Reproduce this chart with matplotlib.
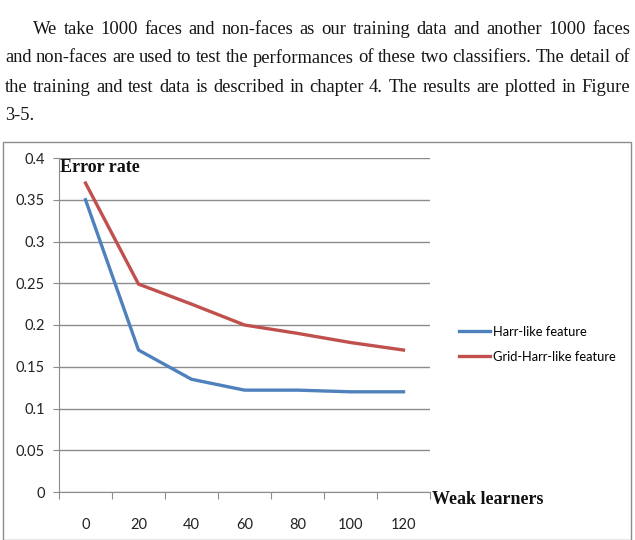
import matplotlib.pyplot as plt
from matplotlib.patches import Rectangle

# data
learners = ['0', '20', '40', '60', '80', '100', '120']
harr = [0.35, 0.17, 0.135, 0.122, 0.122, 0.120, 0.120]
grid_harr = [0.37, 0.249, 0.225, 0.200, 0.190, 0.179, 0.170]
y_ticks = [0, 0.05, 0.1, 0.15, 0.2, 0.25, 0.3, 0.35, 0.4]
y_labels = ['0', '0.05', '0.1', '0.15', '0.2', '0.25', '0.3', '0.35', '0.4']

paragraph = [
    "We take 1000 faces and non-faces as our training data and another 1000 faces",
    "and non-faces are used to test the performances of these two classifiers. The detail of",
    "the training and test data is described in chapter 4. The results are plotted in Figure",
    "3-5.",
]

W, H = 635, 540
fig = plt.figure(figsize=(W / 100, H / 100), dpi=100)
fig.patch.set_facecolor('white')

# paragraph above the chart, justified by hand
serif = 'Liberation Serif'
renderer = fig.canvas.get_renderer()
line_y = [30, 58, 87, 115]
for i, line in enumerate(paragraph):
    words = line.split(' ')
    left = 33 if i == 0 else 5
    right = 630
    last = i == len(paragraph) - 1
    texts = []
    for w in words:
        t = fig.text(0, 1 - line_y[i] / H, w, fontsize=13.3, family=serif,
                     va='center', ha='left', color='#151515')
        texts.append(t)
    widths = [t.get_window_extent(renderer).width for t in texts]
    if last or len(words) == 1:
        gap = renderer.points_to_pixels(13.3) * 0.25
    else:
        gap = (right - left - sum(widths)) / (len(words) - 1)
    x = left
    for t, w in zip(texts, widths):
        t.set_x(x / W)
        x += w + gap

# chart frame
fig.add_artist(Rectangle((3 / W, 0.0), 628 / W, 1 - 142 / H,
                         transform=fig.transFigure, fill=False,
                         edgecolor='#8c8c8c', linewidth=1))

ax = fig.add_axes([59 / W, 1 - 492 / H, (430 - 59) / W, (492 - 158) / H])
xs = list(range(len(learners)))
ax.plot(xs, harr, color='#4F81BD', linewidth=2.4, label='Harr-like feature')
ax.plot(xs, grid_harr, color='#C0504D', linewidth=2.4, label='Grid-Harr-like feature')

ax.set_xlim(-0.5, len(learners) - 0.5)
ax.set_ylim(0, 0.4)
ax.set_yticks(y_ticks)
ax.set_yticklabels(y_labels)
ax.set_xticks([x - 0.5 for x in range(len(learners) + 1)])
ax.set_xticklabels([])
ax.set_xticks(xs, minor=True)
ax.set_xticklabels(learners, minor=True)
ax.tick_params(axis='x', which='major', length=5, color='#8c8c8c', direction='out')
ax.tick_params(axis='x', which='minor', length=0, pad=19, labelsize=10.5, labelcolor='#222222')
ax.tick_params(axis='y', length=4, color='#8c8c8c', labelsize=10.5, labelcolor='#222222', pad=6)
for lab in ax.get_xticklabels(minor=True) + ax.get_yticklabels():
    lab.set_family('Lato')

ax.grid(axis='y', color='#8c8c8c', linewidth=1)
ax.set_axisbelow(True)
for s in ['top', 'right']:
    ax.spines[s].set_visible(False)
for s in ['left', 'bottom']:
    ax.spines[s].set_color('#8c8c8c')

fig.text(60 / W, 1 - 167 / H, 'Error rate', family=serif, weight='bold',
         fontsize=13, va='center', ha='left', color='#111111')
fig.text(432 / W, 1 - 500 / H, 'Weak learners', family=serif, weight='bold',
         fontsize=13, va='center', ha='left', color='#111111')

leg = fig.legend(loc='upper left', bbox_to_anchor=(447 / W, 1 - 314 / H),
                 frameon=False, handlelength=2.4, handletextpad=0.3,
                 labelspacing=1.0, prop={'family': 'Lato', 'size': 9.3})

fig.savefig('out.png', dpi=100)
